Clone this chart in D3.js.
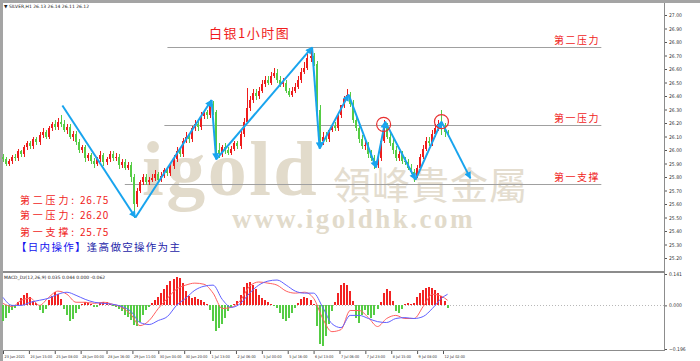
<!DOCTYPE html>
<html>
<head>
<meta charset="utf-8">
<script src="https://cdn.jsdelivr.net/npm/d3@7"></script>
<style>
body { margin: 0; background: #fff; }
svg { display: block; }
</style>
</head>
<body>
<div id="chart"></div>
<script>
// XAG hourly candles, one candle per 2 hours
const opens = [
25.95,25.93,25.90,25.92,25.95,25.94,25.99,25.97,26.02,26.05,
26.03,26.08,26.06,26.11,26.13,26.10,26.16,26.19,26.17,26.21,
26.19,26.15,26.17,26.10,26.12,26.06,26.00,26.02,25.94,25.96,
25.92,25.90,25.93,25.96,25.91,25.93,25.97,25.94,25.95,25.89,
25.91,25.87,25.89,25.80,25.60,25.70,25.76,25.80,25.76,25.78,
25.79,25.82,25.78,25.81,25.85,25.83,25.88,25.93,25.99,25.97,
26.07,26.10,26.08,26.16,26.19,26.17,26.25,26.28,26.26,26.34,
26.28,26.00,25.97,26.02,26.00,25.98,26.01,26.05,26.03,26.12,
26.21,26.31,26.37,26.42,26.40,26.44,26.49,26.52,26.50,26.55,
26.57,26.52,26.49,26.50,26.44,26.41,26.44,26.47,26.52,26.58,
26.61,26.68,26.70,26.64,26.30,26.07,26.10,26.08,26.15,26.18,
26.16,26.26,26.33,26.38,26.41,26.34,26.22,26.16,26.08,26.03,
26.04,25.97,25.94,25.89,25.94,26.07,26.18,26.10,26.05,26.00,
25.94,25.97,25.92,25.91,25.87,25.84,25.81,25.87,25.95,26.01,
26.07,26.05,26.12,26.16,26.19,26.17,26.13];
const highs = [
25.97,25.95,25.93,25.96,25.97,26.01,26.00,26.04,26.07,26.07,
26.10,26.10,26.13,26.16,26.15,26.18,26.21,26.22,26.24,26.26,
26.22,26.19,26.19,26.14,26.14,26.08,26.04,26.04,25.98,25.98,
25.94,25.95,25.99,25.98,25.95,25.99,25.99,25.98,25.97,25.93,
25.93,25.91,25.91,25.82,25.72,25.78,25.82,25.82,25.80,25.82,
25.85,25.84,25.84,25.87,25.87,25.90,25.96,26.02,26.02,26.09,
26.13,26.12,26.18,26.22,26.22,26.28,26.30,26.30,26.37,26.36,
26.30,26.05,26.04,26.05,26.02,26.03,26.07,26.07,26.14,26.24,
26.46,26.40,26.45,26.45,26.47,26.52,26.55,26.55,26.58,26.61,
26.60,26.55,26.53,26.52,26.46,26.47,26.50,26.55,26.61,26.65,
26.71,26.75,26.72,26.66,26.33,26.13,26.13,26.12,26.18,26.21,
26.20,26.29,26.40,26.45,26.43,26.37,26.26,26.19,26.11,26.07,
26.06,26.00,25.96,25.97,26.10,26.22,26.20,26.13,26.08,26.03,
25.99,25.99,25.95,25.93,25.90,25.86,25.89,25.97,26.04,26.10,
26.10,26.15,26.19,26.22,26.30,26.20,26.15];
const lows = [
25.91,25.88,25.88,25.90,25.92,25.92,25.95,25.95,26.00,26.01,
26.01,26.04,26.04,26.09,26.08,26.08,26.14,26.15,26.15,26.17,
26.13,26.12,26.08,26.07,26.04,25.98,25.98,25.91,25.92,25.90,
25.87,25.88,25.91,25.88,25.89,25.91,25.92,25.92,25.86,25.87,
25.85,25.85,25.76,25.50,25.58,25.68,25.74,25.74,25.74,25.76,
25.77,25.76,25.76,25.79,25.81,25.81,25.86,25.91,25.95,25.95,
26.05,26.05,26.06,26.14,26.14,26.15,26.23,26.23,26.24,26.26,
25.94,25.94,25.95,25.97,25.96,25.96,25.99,26.01,26.01,26.10,
26.19,26.29,26.35,26.37,26.38,26.42,26.47,26.48,26.48,26.53,
26.50,26.47,26.47,26.42,26.39,26.39,26.42,26.45,26.50,26.56,
26.59,26.65,26.62,26.28,26.04,26.04,26.06,26.06,26.13,26.14,
26.14,26.24,26.31,26.36,26.32,26.20,26.14,26.05,26.01,26.00,
25.94,25.92,25.86,25.87,25.92,26.05,26.08,26.03,25.97,25.92,
25.92,25.90,25.89,25.85,25.82,25.76,25.79,25.85,25.93,25.99,
26.03,26.03,26.10,26.14,26.11,26.10,26.10];
const closes = [
25.93,25.90,25.92,25.95,25.94,25.99,25.97,26.02,26.05,26.03,
26.08,26.06,26.11,26.13,26.10,26.16,26.19,26.17,26.21,26.19,
26.15,26.17,26.10,26.12,26.06,26.00,26.02,25.94,25.96,25.92,
25.90,25.93,25.96,25.91,25.93,25.97,25.94,25.95,25.89,25.91,
25.87,25.89,25.80,25.60,25.70,25.76,25.80,25.76,25.78,25.79,
25.82,25.78,25.81,25.85,25.83,25.88,25.93,25.99,25.97,26.07,
26.10,26.08,26.16,26.19,26.17,26.25,26.28,26.26,26.34,26.28,
26.00,25.97,26.02,26.00,25.98,26.01,26.05,26.03,26.12,26.21,
26.31,26.37,26.42,26.40,26.44,26.49,26.52,26.50,26.55,26.57,
26.52,26.49,26.50,26.44,26.41,26.44,26.47,26.52,26.58,26.61,
26.68,26.70,26.64,26.30,26.07,26.10,26.08,26.15,26.18,26.16,
26.26,26.33,26.38,26.41,26.34,26.22,26.16,26.08,26.03,26.04,
25.97,25.94,25.89,25.94,26.07,26.18,26.10,26.05,26.00,25.94,
25.97,25.92,25.91,25.87,25.84,25.81,25.87,25.95,26.01,26.07,
26.05,26.12,26.16,26.19,26.17,26.13,26.12];

// MACD histogram, one value per candle
const macdHist = [
-0.068,-0.055,-0.036,-0.023,-0.014,0.014,0.032,0.045,0.055,0.036,
0.018,0.009,-0.023,-0.036,-0.018,0.023,0.041,0.059,0.05,0.027,
-0.018,-0.041,-0.068,-0.059,-0.036,-0.018,0.005,0.014,0.009,0.005,
-0.009,-0.009,0.009,0.014,0.014,0.005,-0.005,-0.009,-0.018,-0.027,
-0.041,-0.05,-0.064,-0.086,-0.091,-0.073,-0.045,-0.023,-0.009,0.009,
0.023,0.036,0.055,0.073,0.091,0.109,0.118,0.127,0.123,0.1,
0.064,0.041,0.032,0.036,0.027,0.023,0.014,0.005,-0.023,-0.068,
-0.114,-0.1,-0.082,-0.055,-0.027,-0.009,0.005,0.018,0.045,0.082,
0.1,0.105,0.091,0.073,0.045,0.032,0.023,0.014,0.005,-0.005,
-0.014,-0.036,-0.059,-0.068,-0.055,-0.036,-0.014,0.009,0.027,0.036,
0.032,0.023,0.005,-0.091,-0.173,-0.182,-0.136,-0.082,-0.027,0.014,
0.055,0.091,0.1,0.091,0.064,0.018,-0.055,-0.077,-0.045,-0.023,
-0.041,-0.055,-0.045,-0.018,0.014,0.055,0.073,0.064,0.018,-0.027,
-0.032,-0.018,0.005,0.009,0.005,0.009,0.036,0.055,0.068,0.077,
0.082,0.077,0.068,0.055,0.041,0.018,-0.014];

// MACD lines, sampled every third candle (+ the last one)
const lineBars = [0,3,6,9,12,15,18,21,24,27,30,33,36,39,42,45,48,51,54,57,
  60,63,66,69,72,75,78,81,84,87,90,93,96,99,102,105,108,111,114,117,
  120,123,126,129,132,135,138,141,144,146];
const difLine = [
0.009,-0.005,0.023,0.032,0,0.036,0.064,0.05,0.014,0.014,
0.009,0.014,0.005,-0.009,-0.041,-0.091,-0.068,-0.014,0.032,0.073,
0.091,0.1,0.095,0.055,-0.014,-0.009,0.023,0.086,0.105,0.1,
0.091,0.064,0.055,0.059,0.032,-0.059,-0.118,-0.109,-0.023,-0.023,
-0.055,-0.095,-0.059,-0.045,-0.059,-0.059,-0.005,0.05,0.041,0.023];
const deaLine = [
0.036,0,0,0.014,0.023,0.032,0.05,0.059,0.045,0.027,
0.014,0.009,0.005,-0.005,-0.027,-0.077,-0.086,-0.068,-0.05,0,
0.032,0.068,0.086,0.091,0.027,-0.009,0.009,0.055,0.091,0.109,
0.114,0.091,0.064,0.055,0.055,-0.009,-0.082,-0.1,-0.045,-0.045,
-0.059,-0.073,-0.077,-0.059,-0.055,-0.059,-0.05,-0.014,0.032,0.05];

// hand-drawn wave (hour index, price)
const waveHours  = [39, 87, 137, 140, 203, 208, 227, 245, 251, 271, 288, 307];
const wavePrices = [26.33, 25.50, 26.37, 25.93, 26.76, 26.01, 26.41, 25.87, 26.21, 25.78, 26.21, 25.79];
const circleHours  = [250, 288];
const circlePrices = [26.19, 26.21];

// support / resistance levels
const levelNames  = ["第二压力", "第一压力", "第一支撑"];
const levelPrices = [26.76, 26.185, 25.75];
const levelStart  = [108, 106, 80];
const levelEnd    = 393;
const levelValues = ["26.75", "26.20", "25.75"];

// axes
const timeTickHours = [0,17,34,51,68,85,102,119,136,153,170,187,204,221,238,255,272,289];
const timeTickLabels = ["23 Jun 2021","24 Jun 15:00","25 Jun 08:00","28 Jun 00:00","28 Jun 16:00",
  "29 Jun 11:00","30 Jun 04:00","30 Jun 20:00","1 Jul 13:00","2 Jul 06:00","5 Jul 00:00",
  "5 Jul 16:00","6 Jul 13:00","7 Jul 06:00","7 Jul 23:00","8 Jul 15:00","9 Jul 08:00","12 Jul 02:00"];
const priceTicks = [27.0,26.9,26.8,26.7,26.6,26.5,26.4,26.3,26.2,26.1,26.0,
  25.9,25.8,25.7,25.6,25.5,25.4,25.3,25.2];
const macdTicks = [0.141, 0, -0.196];

const width = 700;
const height = 361;
const plotRight = 664;

const svg = d3.select("#chart")
    .append("svg")
    .attr("width", width)
    .attr("height", height)
    .style("font-family", "'Noto Sans CJK SC', sans-serif");

const x = d3.scaleLinear().domain([0, 289]).range([3, 443]);
const y = d3.scaleLinear().domain([25.2, 27.0]).range([258, 15]);
const ym = d3.scaleLinear().domain([-0.196, 0.141]).range([349, 274]);

// window frame
svg.append("rect").attr("width", width).attr("height", height).attr("fill", "#fff");
svg.append("rect").attr("x", 0).attr("y", 0).attr("width", width).attr("height", 3).attr("fill", "#a4a4a4");
svg.append("rect").attr("x", 0).attr("y", 0).attr("width", 3).attr("height", height).attr("fill", "#a4a4a4");

// watermark
const wm = svg.append("g").attr("fill", "#e2dbcb");
wm.append("text").attr("x", 142).attr("y", 195)
    .style("font-family", "'Liberation Serif', serif").style("font-weight", "bold")
    .style("font-size", "78px").style("letter-spacing", "2.5px").text("igold");
wm.append("text").attr("x", 333).attr("y", 199)
    .style("font-family", "'Noto Sans CJK TC', sans-serif")
    .style("font-size", "38px").style("letter-spacing", "1px").attr("fill", "#e4ddcf").text("領峰貴金屬");
wm.append("text").attr("x", 232).attr("y", 228)
    .style("font-family", "'Liberation Serif', serif").style("font-weight", "bold")
    .style("font-size", "27px").style("letter-spacing", "2.5px").text("www.igoldhk.com");

// levels
const levels = svg.append("g");
levelPrices.forEach((p, i) => {
    const yy = Math.round(y(p)) + 0.5;
    levels.append("line")
        .attr("x1", x(levelStart[i])).attr("x2", x(levelEnd))
        .attr("y1", yy).attr("y2", yy)
        .attr("stroke", "#a0a0a0").attr("stroke-width", 1);
    levels.append("text")
        .attr("x", 554).attr("y", yy - 4)
        .attr("fill", "#f01c1c")
        .style("font-size", "10px").style("letter-spacing", "1.5px")
        .text(levelNames[i]);
});

// candles
const candles = svg.append("g").attr("shape-rendering", "crispEdges");
closes.forEach((c, i) => {
    const cx = Math.round(x(i * 2));
    const o = opens[i];
    const up = c >= o;
    const col = up ? "#ee1c1c" : "#55cc44";
    candles.append("rect")
        .attr("x", cx).attr("width", 1)
        .attr("y", y(highs[i])).attr("height", y(lows[i]) - y(highs[i]))
        .attr("fill", col);
    const top = y(Math.max(o, c));
    candles.append("rect")
        .attr("x", cx - 1).attr("width", 2)
        .attr("y", top).attr("height", Math.max(1, y(Math.min(o, c)) - top))
        .attr("fill", col);
});

// wave lines with arrowheads
svg.append("defs").append("marker")
    .attr("id", "arr").attr("viewBox", "0 0 10 10")
    .attr("refX", 9).attr("refY", 5)
    .attr("markerWidth", 8).attr("markerHeight", 7)
    .attr("markerUnits", "userSpaceOnUse")
    .attr("orient", "auto")
    .append("path").attr("d", "M0,0L10,5L0,10z").attr("fill", "#18a4ee");

const wave = svg.append("g");
for (let i = 0; i < waveHours.length - 1; i++) {
    wave.append("line")
        .attr("x1", x(waveHours[i])).attr("y1", y(wavePrices[i]))
        .attr("x2", x(waveHours[i + 1])).attr("y2", y(wavePrices[i + 1]))
        .attr("stroke", "#18a4ee").attr("stroke-width", 2)
        .attr("marker-end", "url(#arr)");
}
circleHours.forEach((h, i) => {
    svg.append("circle")
        .attr("cx", x(h)).attr("cy", y(circlePrices[i])).attr("r", 7)
        .attr("fill", "none").attr("stroke", "#e83030").attr("stroke-width", 1.2);
});

// title and notes
svg.append("text").attr("x", 209).attr("y", 38)
    .attr("fill", "#f01c1c").style("font-size", "13px").style("letter-spacing", "1.5px")
    .text("白银1小时图");

const notes = svg.append("g").attr("fill", "#f01c1c").style("font-size", "10px");
const noteY = [204, 219, 236];
levelNames.forEach((n, i) => {
    notes.append("text").attr("x", 20).attr("y", noteY[i])
        .style("letter-spacing", "2.8px").text(n + ":");
    notes.append("text").attr("x", 80).attr("y", noteY[i])
        .style("letter-spacing", "0.8px").text(levelValues[i]);
});
const plan = svg.append("text").attr("x", 16).attr("y", 251)
    .style("font-size", "10.5px").style("letter-spacing", "1.3px");
plan.append("tspan").attr("fill", "#1212ee").text("【日内操作】");
plan.append("tspan").attr("fill", "#2424a8").text("逢高做空操作为主");

// header
svg.append("text").attr("x", 4).attr("y", 8)
    .attr("fill", "#222").style("font-family", "'DejaVu Sans', sans-serif").style("font-size", "4.5px")
    .text("▼ SILVER,H1  26.13 26.14 26.11 26.12");

// right price axis
const axisStyle = (g, size) => {
    g.select(".domain").remove();
    g.selectAll(".tick line").attr("stroke", "#555");
    g.selectAll(".tick text").attr("fill", "#333")
        .style("font-family", "'DejaVu Sans Condensed', 'DejaVu Sans', sans-serif").style("font-size", size);
};
svg.append("g")
    .attr("transform", `translate(${plotRight},0)`)
    .call(d3.axisRight(y).tickValues(priceTicks).tickFormat(d3.format(".2f")).tickSize(3).tickPadding(2))
    .call(axisStyle, "5px");

// MACD panel
svg.append("rect").attr("x", 3).attr("y", 271).attr("width", plotRight - 3).attr("height", 2).attr("fill", "#8c8c8c");
svg.append("text").attr("x", 4).attr("y", 279)
    .attr("fill", "#222").style("font-family", "'DejaVu Sans', sans-serif").style("font-size", "4.5px")
    .text("MACD_Dz(12,26,9) 0.035 0.044 0.000 -0.062");
svg.append("line")
    .attr("x1", 3).attr("x2", plotRight).attr("y1", Math.round(ym(0)) + 0.5).attr("y2", Math.round(ym(0)) + 0.5)
    .attr("stroke", "#b8b8b8").attr("stroke-dasharray", "1,2");

const hist = svg.append("g").attr("shape-rendering", "crispEdges");
macdHist.forEach((v, i) => {
    const cx = Math.round(x(i * 2));
    hist.append("rect")
        .attr("x", cx - 1).attr("width", 2)
        .attr("y", ym(Math.max(v, 0)))
        .attr("height", Math.abs(ym(v) - ym(0)))
        .attr("fill", v >= 0 ? "#f22222" : "#55cc44");
});

const macdLine = d3.line()
    .x((d, i) => x(lineBars[i] * 2))
    .y(d => ym(d))
    .curve(d3.curveMonotoneX);
svg.append("path").datum(difLine).attr("d", macdLine)
    .attr("fill", "none").attr("stroke", "#ff6060").attr("stroke-width", 1);
svg.append("path").datum(deaLine).attr("d", macdLine)
    .attr("fill", "none").attr("stroke", "#6060ff").attr("stroke-width", 1);

svg.append("g")
    .attr("transform", `translate(${plotRight},0)`)
    .call(d3.axisRight(ym).tickValues(macdTicks).tickFormat(d3.format(".3f")).tickSize(3).tickPadding(2))
    .call(axisStyle, "5px");

// frame lines
svg.append("line").attr("x1", plotRight + 0.5).attr("x2", plotRight + 0.5).attr("y1", 3).attr("y2", 351)
    .attr("stroke", "#8c8c8c");
svg.append("line").attr("x1", 3).attr("x2", plotRight).attr("y1", 350.5).attr("y2", 350.5)
    .attr("stroke", "#8c8c8c");

// time axis
svg.append("g")
    .attr("transform", "translate(0,351)")
    .call(d3.axisBottom(x).tickValues(timeTickHours).tickFormat((d, i) => timeTickLabels[i]).tickSize(3).tickPadding(1))
    .call(axisStyle, "3.8px")
    .call(g => g.selectAll(".tick text").attr("text-anchor", "start").attr("x", 1));
</script>
</body>
</html>
